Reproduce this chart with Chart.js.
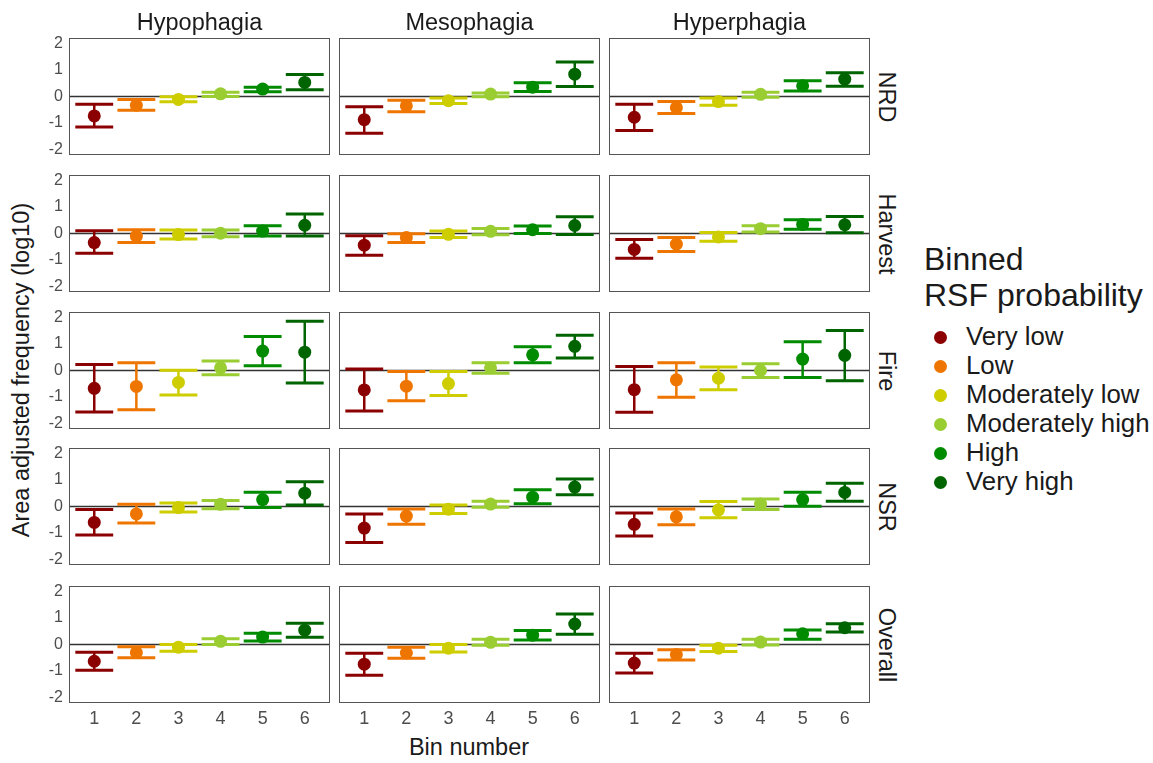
<!DOCTYPE html>
<html><head><meta charset="utf-8">
<script src="https://cdn.jsdelivr.net/npm/chart.js@4.4.1/dist/chart.umd.min.js"></script>
<style>
html,body{margin:0;padding:0;background:#fff}
body{width:1153px;height:763px;position:relative;overflow:hidden;font-family:"Liberation Sans",Arial,sans-serif;color:#1a1a1a}
.box{position:absolute}
.box canvas{display:block}
.t{position:absolute;white-space:nowrap;line-height:1;transform:translate(-50%,-50%)}
.l{position:absolute;white-space:nowrap;line-height:1;transform:translateY(-50%)}
.dot{position:absolute;border-radius:50%}
</style></head><body>
<script>
// ---------- data ----------
const bins = [1, 2, 3, 4, 5, 6];
const binLabels = ["Very low", "Low", "Moderately low", "Moderately high", "High", "Very high"];
const binColors = ["#8B0000", "#EE7600", "#CDCD00", "#9ACD32", "#008B00", "#006400"];
const diets = ["Hypophagia", "Mesophagia", "Hyperphagia"];
const disturbances = ["NRD", "Harvest", "Fire", "NSR", "Overall"];
const yTicks = [-2, -1, 0, 1, 2];

const NRD_Hypophagia_est = [-0.73, -0.33, -0.11, 0.10, 0.28, 0.53];
const NRD_Hypophagia_lo  = [-1.15, -0.52, -0.20, 0.00, 0.18, 0.25];
const NRD_Hypophagia_hi  = [-0.29, -0.11, -0.01, 0.16, 0.35, 0.83];
const NRD_Mesophagia_est = [-0.87, -0.35, -0.16, 0.09, 0.35, 0.84];
const NRD_Mesophagia_lo  = [-1.38, -0.57, -0.26, -0.01, 0.19, 0.38];
const NRD_Mesophagia_hi  = [-0.39, -0.14, -0.06, 0.13, 0.52, 1.30];
const NRD_Hyperphagia_est = [-0.78, -0.42, -0.19, 0.08, 0.40, 0.65];
const NRD_Hyperphagia_lo  = [-1.28, -0.64, -0.33, -0.03, 0.21, 0.39];
const NRD_Hyperphagia_hi  = [-0.29, -0.19, -0.06, 0.16, 0.59, 0.89];

const Harvest_Hypophagia_est = [-0.34, -0.10, -0.04, 0.01, 0.09, 0.31];
const Harvest_Hypophagia_lo  = [-0.74, -0.34, -0.21, -0.12, -0.09, -0.09];
const Harvest_Hypophagia_hi  = [0.10, 0.14, 0.13, 0.13, 0.29, 0.73];
const Harvest_Mesophagia_est = [-0.44, -0.15, -0.03, 0.08, 0.14, 0.30];
const Harvest_Mesophagia_lo  = [-0.82, -0.34, -0.15, -0.05, 0.00, -0.04];
const Harvest_Mesophagia_hi  = [-0.08, -0.01, 0.09, 0.19, 0.28, 0.63];
const Harvest_Hyperphagia_est = [-0.60, -0.40, -0.13, 0.18, 0.34, 0.33];
const Harvest_Hyperphagia_lo  = [-0.93, -0.68, -0.29, 0.06, 0.16, 0.03];
const Harvest_Hyperphagia_hi  = [-0.23, -0.15, 0.04, 0.29, 0.52, 0.64];

const Fire_Hypophagia_est = [-0.67, -0.60, -0.45, 0.10, 0.73, 0.69];
const Fire_Hypophagia_lo  = [-1.56, -1.48, -0.92, -0.16, 0.18, -0.47];
const Fire_Hypophagia_hi  = [0.23, 0.29, 0.01, 0.36, 1.28, 1.85];
const Fire_Mesophagia_est = [-0.73, -0.59, -0.49, 0.10, 0.59, 0.91];
const Fire_Mesophagia_lo  = [-1.52, -1.14, -0.94, -0.10, 0.29, 0.47];
const Fire_Mesophagia_hi  = [0.06, -0.04, -0.04, 0.29, 0.89, 1.33];
const Fire_Hyperphagia_est = [-0.72, -0.35, -0.29, 0.00, 0.43, 0.57];
const Fire_Hyperphagia_lo  = [-1.57, -1.01, -0.72, -0.26, -0.26, -0.39];
const Fire_Hyperphagia_hi  = [0.15, 0.29, 0.13, 0.25, 1.08, 1.50];

const NSR_Hypophagia_est = [-0.60, -0.28, -0.04, 0.08, 0.26, 0.50];
const NSR_Hypophagia_lo  = [-1.07, -0.62, -0.21, -0.08, -0.04, 0.06];
const NSR_Hypophagia_hi  = [-0.11, 0.08, 0.13, 0.23, 0.54, 0.93];
const NSR_Mesophagia_est = [-0.81, -0.36, -0.10, 0.09, 0.35, 0.73];
const NSR_Mesophagia_lo  = [-1.35, -0.67, -0.26, -0.03, 0.10, 0.44];
const NSR_Mesophagia_hi  = [-0.28, -0.09, 0.06, 0.20, 0.63, 1.03];
const NSR_Hyperphagia_est = [-0.67, -0.39, -0.13, 0.09, 0.26, 0.53];
const NSR_Hyperphagia_lo  = [-1.11, -0.69, -0.42, -0.11, 0.01, 0.20];
const NSR_Hyperphagia_hi  = [-0.24, -0.09, 0.19, 0.28, 0.54, 0.87];

const Overall_Hypophagia_est = [-0.63, -0.30, -0.10, 0.12, 0.28, 0.54];
const Overall_Hypophagia_lo  = [-0.97, -0.50, -0.25, 0.00, 0.13, 0.27];
const Overall_Hypophagia_hi  = [-0.29, -0.08, 0.00, 0.22, 0.42, 0.80];
const Overall_Mesophagia_est = [-0.74, -0.32, -0.14, 0.08, 0.35, 0.77];
const Overall_Mesophagia_lo  = [-1.16, -0.52, -0.28, -0.03, 0.17, 0.39];
const Overall_Mesophagia_hi  = [-0.33, -0.10, 0.00, 0.20, 0.53, 1.15];
const Overall_Hyperphagia_est = [-0.70, -0.38, -0.14, 0.09, 0.40, 0.63];
const Overall_Hyperphagia_lo  = [-1.07, -0.58, -0.26, -0.02, 0.20, 0.47];
const Overall_Hyperphagia_hi  = [-0.33, -0.20, -0.03, 0.20, 0.55, 0.78];

const panelData = {
  NRD: {Hypophagia:[NRD_Hypophagia_est,NRD_Hypophagia_lo,NRD_Hypophagia_hi],
        Mesophagia:[NRD_Mesophagia_est,NRD_Mesophagia_lo,NRD_Mesophagia_hi],
        Hyperphagia:[NRD_Hyperphagia_est,NRD_Hyperphagia_lo,NRD_Hyperphagia_hi]},
  Harvest: {Hypophagia:[Harvest_Hypophagia_est,Harvest_Hypophagia_lo,Harvest_Hypophagia_hi],
        Mesophagia:[Harvest_Mesophagia_est,Harvest_Mesophagia_lo,Harvest_Mesophagia_hi],
        Hyperphagia:[Harvest_Hyperphagia_est,Harvest_Hyperphagia_lo,Harvest_Hyperphagia_hi]},
  Fire: {Hypophagia:[Fire_Hypophagia_est,Fire_Hypophagia_lo,Fire_Hypophagia_hi],
        Mesophagia:[Fire_Mesophagia_est,Fire_Mesophagia_lo,Fire_Mesophagia_hi],
        Hyperphagia:[Fire_Hyperphagia_est,Fire_Hyperphagia_lo,Fire_Hyperphagia_hi]},
  NSR: {Hypophagia:[NSR_Hypophagia_est,NSR_Hypophagia_lo,NSR_Hypophagia_hi],
        Mesophagia:[NSR_Mesophagia_est,NSR_Mesophagia_lo,NSR_Mesophagia_hi],
        Hyperphagia:[NSR_Hyperphagia_est,NSR_Hyperphagia_lo,NSR_Hyperphagia_hi]},
  Overall: {Hypophagia:[Overall_Hypophagia_est,Overall_Hypophagia_lo,Overall_Hypophagia_hi],
        Mesophagia:[Overall_Mesophagia_est,Overall_Mesophagia_lo,Overall_Mesophagia_hi],
        Hyperphagia:[Overall_Hyperphagia_est,Overall_Hyperphagia_lo,Overall_Hyperphagia_hi]}
};

// ---------- layout ----------
const FONT = '"Liberation Sans", Arial, sans-serif';
const colLeft = [69, 339, 609];
const rowTop = [38, 175, 312, 448, 586];
const PW = 261, PH = 117;
const YAXW = 29, XAXH = 30, VPAD = 9;

const errBarPlugin = {
  id: 'errbars',
  beforeDatasetsDraw(chart) {
    const {ctx, chartArea: a, scales: {x, y}} = chart;
    const ds = chart.data.datasets[0];
    ctx.save();
    const y0 = y.getPixelForValue(0);
    ctx.strokeStyle = '#333333';
    ctx.lineWidth = 1.3;
    ctx.beginPath(); ctx.moveTo(a.left, y0); ctx.lineTo(a.right, y0); ctx.stroke();
    ds.errLo.forEach((lo, i) => {
      const hi = ds.errHi[i];
      const xc = x.getPixelForValue(bins[i]);
      const xl = x.getPixelForValue(bins[i] - 0.45);
      const xr = x.getPixelForValue(bins[i] + 0.45);
      const yl = y.getPixelForValue(lo), yh = y.getPixelForValue(hi);
      ctx.strokeStyle = binColors[i];
      ctx.lineWidth = 2.5;
      ctx.beginPath(); ctx.moveTo(xc, yl); ctx.lineTo(xc, yh); ctx.stroke();
      ctx.lineWidth = 3;
      ctx.beginPath();
      ctx.moveTo(xl, yl); ctx.lineTo(xr, yl);
      ctx.moveTo(xl, yh); ctx.lineTo(xr, yh);
      ctx.stroke();
    });
    ctx.restore();
  },
  afterDraw(chart) {
    const {ctx, chartArea: a} = chart;
    ctx.save();
    ctx.strokeStyle = '#555555';
    ctx.lineWidth = 1;
    ctx.strokeRect(Math.round(a.left) + 0.5, Math.round(a.top) + 0.5,
                   Math.round(a.right - a.left) - 1, Math.round(a.bottom - a.top) - 1);
    ctx.restore();
  }
};

function addText(cls, txt, x, y, size, extra) {
  const d = document.createElement('div');
  d.className = cls;
  d.textContent = txt;
  d.style.left = x + 'px';
  d.style.top = y + 'px';
  d.style.fontSize = size + 'px';
  if (extra) Object.assign(d.style, extra);
  document.body.appendChild(d);
  return d;
}

function zeroPad(s) { s.paddingTop = 0; s.paddingBottom = 0; s.paddingLeft = 0; s.paddingRight = 0; }

disturbances.forEach((dist, r) => {
  diets.forEach((diet, c) => {
    const isLeft = c === 0, isBottom = r === disturbances.length - 1;
    const [est, lo, hi] = panelData[dist][diet];
    // left-column canvases get a little extra room above/below so tick labels are not cut
    const padTop = isLeft ? VPAD : 0;
    const padBottom = (isLeft && !isBottom) ? VPAD : 0;
    const w = PW + (isLeft ? YAXW : 0);
    const h = PH + (isBottom ? XAXH : 0) + padTop + padBottom;
    const box = document.createElement('div');
    box.className = 'box';
    Object.assign(box.style, {left: (colLeft[c] - (isLeft ? YAXW : 0)) + 'px', top: (rowTop[r] - padTop) + 'px', width: w + 'px', height: h + 'px'});
    const cv = document.createElement('canvas');
    box.appendChild(cv);
    document.body.appendChild(box);
    new Chart(cv, {
      type: 'scatter',
      data: {
        datasets: [{
          data: bins.map((b, i) => ({x: b, y: est[i]})),
          errLo: lo, errHi: hi,
          pointRadius: 6.5,
          pointHoverRadius: 6.5,
          pointBorderWidth: 0,
          pointBackgroundColor: binColors,
          pointBorderColor: binColors
        }]
      },
      options: {
        responsive: true,
        maintainAspectRatio: false,
        devicePixelRatio: 1,
        animation: false,
        events: [],
        layout: {padding: {top: padTop, bottom: padBottom, left: 0, right: 0}, autoPadding: false},
        plugins: {legend: {display: false}, tooltip: {enabled: false}},
        scales: {
          x: {
            type: 'linear', min: 0.4, max: 6.6, display: isBottom,
            grid: {display: false, drawTicks: false}, border: {display: false},
            ticks: {padding: 5, color: '#4d4d4d', font: {size: 18, family: FONT}, callback: v => String(v)},
            afterBuildTicks: s => { s.ticks = bins.map(v => ({value: v})); },
            afterFit: s => { s.height = isBottom ? XAXH : 0; zeroPad(s); }
          },
          y: {
            type: 'linear', min: -2.2, max: 2.2, display: isLeft,
            grid: {display: false, drawTicks: false}, border: {display: false},
            ticks: {padding: 6, color: '#4d4d4d', font: {size: 16, family: FONT}, callback: v => String(v)},
            afterBuildTicks: s => { s.ticks = yTicks.map(v => ({value: v})); },
            afterFit: s => { s.width = isLeft ? YAXW : 0; zeroPad(s); }
          }
        }
      },
      plugins: [errBarPlugin]
    });
  });
});

diets.forEach((d, c) => addText('t', d, colLeft[c] + PW / 2, 23, 23.5));
disturbances.forEach((d, r) => addText('t', d, 886, rowTop[r] + PH / 2, 23.5,
  {transform: 'translate(-50%,-50%) rotate(90deg)'}));
addText('t', 'Area adjusted frequency (log10)', 22, 370, 23.5,
  {transform: 'translate(-50%,-50%) rotate(-90deg)'});
addText('t', 'Bin number', 469, 748, 23.5);
addText('l', 'Binned', 924, 259, 32);
addText('l', 'RSF probability', 924, 295, 32);
binLabels.forEach((lab, i) => {
  const yc = 337 + i * 29;
  const dot = document.createElement('div');
  dot.className = 'dot';
  const R = 6.5;
  Object.assign(dot.style, {left: (940 - R) + 'px', top: (yc - R) + 'px', width: 2 * R + 'px', height: 2 * R + 'px', background: binColors[i]});
  document.body.appendChild(dot);
  addText('l', lab, 966, yc, 25.8);
});
</script>
</body></html>
